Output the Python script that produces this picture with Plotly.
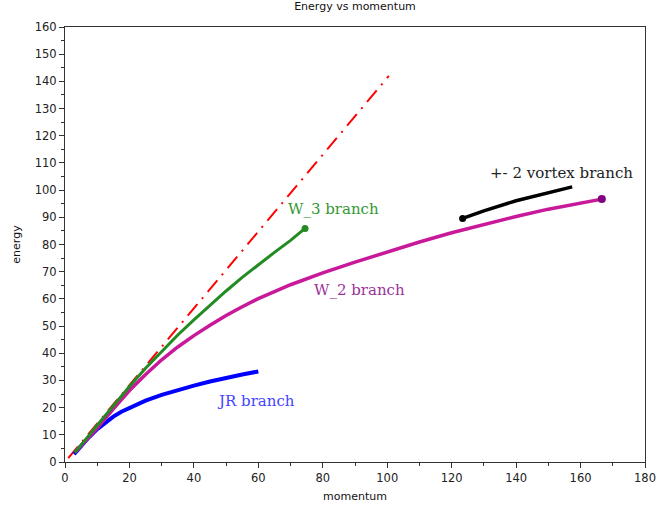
import plotly.graph_objects as go

# ---- data ----
ref_p = [1, 20, 40, 60, 80, 100.5]
ref_E = [1.4, 28.3, 56.6, 84.9, 113.1, 142.0]

jr_p = [2.8, 5, 7.5, 10, 12.5, 15, 17.5, 20, 25, 30, 35, 40, 45, 50, 55, 60]
jr_E = [2.9, 5.9, 9.2, 12.1, 14.6, 16.7, 18.5, 20.0, 22.6, 24.7, 26.5, 28.1, 29.6, 31.0, 32.2, 33.3]

w3_p = [3, 5, 10, 15, 20, 25, 30, 35, 40, 45, 50, 55, 60, 65, 70, 74.5]
w3_E = [3.5, 6.2, 13.5, 20.8, 27.8, 34.5, 40.8, 46.7, 52.3, 57.7, 62.9, 67.9, 72.6, 77.1, 81.5, 85.9]

w2_p = [3, 5, 10, 15, 20, 25, 30, 35, 40, 45, 50, 55, 60, 70, 80, 90, 100, 110, 120, 130, 140, 150, 160, 166.6]
w2_E = [3.5, 6, 12.5, 19.5, 26.3, 32.2, 37.6, 42.3, 46.5, 50.3, 53.9, 57.1, 60.1, 65.2, 69.6, 73.5, 77.3, 80.9, 84.3, 87.4, 90.3, 93.0, 95.4, 96.7]

vx_p = [123.4, 130, 140, 150, 157.4]
vx_E = [89.6, 92.4, 96.1, 99.0, 101.2]

fig = go.Figure()

fig.add_trace(go.Scatter(x=ref_p, y=ref_E, mode="lines",
                         line=dict(color="#ff0000", width=2, dash="15px,7px,2px,7px")))
fig.add_trace(go.Scatter(x=jr_p, y=jr_E, mode="lines",
                         line=dict(color="#0000ff", width=4)))
fig.add_trace(go.Scatter(x=w2_p, y=w2_E, mode="lines",
                         line=dict(color="#c8199b", width=3.5)))
fig.add_trace(go.Scatter(x=w3_p, y=w3_E, mode="lines",
                         line=dict(color="#228b22", width=3)))
fig.add_trace(go.Scatter(x=vx_p, y=vx_E, mode="lines",
                         line=dict(color="#000000", width=3.5)))

# end-point dots
fig.add_trace(go.Scatter(x=[w3_p[-1]], y=[w3_E[-1]], mode="markers",
                         marker=dict(color="#228b22", size=7)))
fig.add_trace(go.Scatter(x=[w2_p[-1]], y=[w2_E[-1]], mode="markers",
                         marker=dict(color="#800080", size=8)))
fig.add_trace(go.Scatter(x=[vx_p[0]], y=[vx_E[0]], mode="markers",
                         marker=dict(color="#000000", size=7)))

labels = [
    ("W_3 branch", 83.2, 93.0, "#339933"),
    ("W_2 branch", 91.4, 63.2, "#993399"),
    ("JR branch", 59.3, 22.4, "#4444ff"),
    ("+- 2 vortex branch", 154.2, 106.3, "#222222"),
]
for txt, x, y, c in labels:
    fig.add_annotation(x=x, y=y, text=txt, showarrow=False,
                       font=dict(family="DejaVu Serif", size=15, color=c))

axis_common = dict(
    showgrid=False, zeroline=False, showline=True, linecolor="#333333", linewidth=1,
    mirror=True, ticks="outside", ticklen=5, tickwidth=1, tickcolor="#333333",
    tickfont=dict(family="DejaVu Sans", size=11.5, color="#222222"),
    automargin=False,
)

fig.update_layout(
    width=657, height=507,
    margin=dict(l=65, r=12, t=27, b=45),
    paper_bgcolor="white", plot_bgcolor="white",
    showlegend=False,
    title=dict(text="Energy vs momentum", x=0.5, xref="paper", y=0.988, yref="container",
               yanchor="middle", automargin=False,
               font=dict(family="DejaVu Sans", size=11, color="#111111")),
    xaxis=dict(range=[0, 180], dtick=20, tick0=0,
               minor=dict(dtick=10, ticklen=3, ticks="outside", tickcolor="#333333"),
               title=dict(text="momentum", standoff=8,
                          font=dict(family="DejaVu Sans", size=11, color="#111111")),
               **axis_common),
    yaxis=dict(range=[0, 160], dtick=10, tick0=0,
               minor=dict(dtick=5, ticklen=3, ticks="outside", tickcolor="#333333"),
               title=dict(text="energy", standoff=11,
                          font=dict(family="DejaVu Sans", size=11, color="#111111")),
               **axis_common),
)

fig.write_html("out.html", config={"displayModeBar": False},
               post_script="document.body.style.margin='0';document.body.style.overflow='hidden';")
